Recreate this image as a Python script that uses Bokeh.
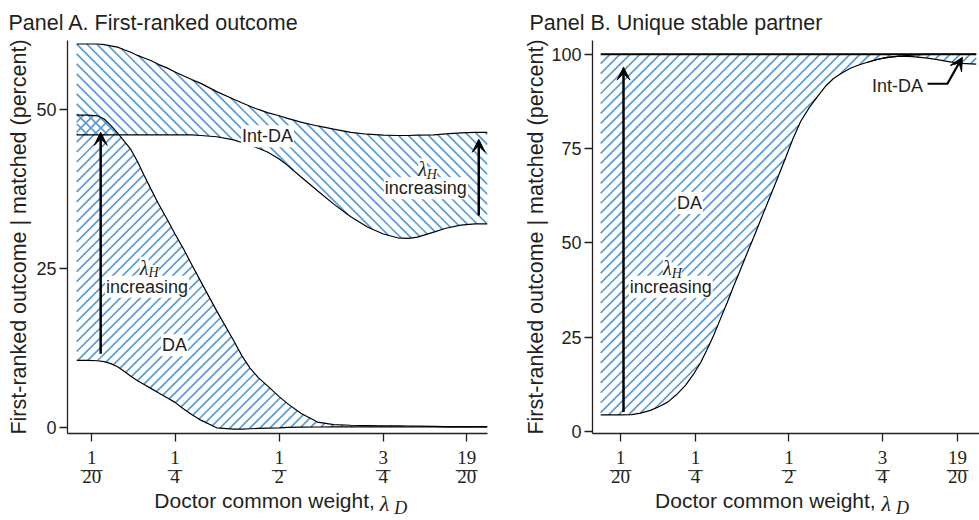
import numpy as np
from bokeh.plotting import figure
from bokeh.models import Range1d, Label, Arrow, VeeHead, FixedTicker, LinearAxis
from bokeh.layouts import row
from bokeh.embed import file_html
from bokeh.resources import INLINE

# ---------------- data ----------------
x_ticks = [0.05, 0.25, 0.5, 0.75, 0.95]
x_tick_num = ["1", "1", "1", "3", "19"]
x_tick_den = ["20", "4", "2", "4", "20"]

a_y_ticks = [0, 25, 50]
b_y_ticks = [0, 25, 50, 75, 100]

# Panel A: first-ranked outcome
a_x = [0.014, 0.04, 0.064, 0.08, 0.096, 0.112, 0.128, 0.144, 0.16, 0.176,
       0.192, 0.21, 0.232, 0.25, 0.27, 0.29, 0.312,
       0.35, 0.391, 0.41, 0.43, 0.45, 0.472, 0.5, 0.52, 0.552,
       0.592, 0.631, 0.672, 0.712, 0.75, 0.784, 0.81, 0.832, 0.871, 0.9, 0.936, 0.97, 1.0]
a_intda_hi = [60.3, 60.3, 60.3, 60.2, 60.0, 59.8, 59.4, 59.0, 58.5, 58.1,
              57.7, 57.1, 56.5, 55.9, 55.3, 54.7, 54.1,
              52.8, 51.6, 51.05, 50.5, 50.0, 49.5, 49.0, 48.6, 48.0,
              47.4, 46.9, 46.4, 46.1, 45.95, 45.9, 45.9, 45.95, 46.0, 46.15, 46.3, 46.4, 46.4]
a_intda_lo = [46.0, 46.0, 46.0, 46.0, 46.0, 46.0, 46.0, 46.0, 46.0, 46.0,
              46.0, 46.0, 46.0, 46.0, 46.0, 46.0, 45.9,
              45.7, 45.2, 44.8, 44.4, 43.9, 43.3, 42.2, 41.2, 39.4,
              37.2, 35.1, 33.1, 31.5, 30.4, 29.8, 29.7, 29.9, 30.7, 31.3, 31.8, 32.0, 32.0]
a_da_hi = [49.1, 49.1, 49.0, 48.5, 47.5, 46.3, 45.0, 43.7, 41.8, 39.6,
           37.5, 35.2, 32.6, 30.4, 28.1, 25.6, 22.9,
           18.3, 13.6, 11.3, 9.3, 7.8, 6.5, 4.8, 3.7, 2.2,
           0.8, 0.4, 0.3, 0.25, 0.2, 0.2, 0.15, 0.15, 0.12, 0.1, 0.1, 0.1, 0.1]
a_da_lo = [10.5, 10.5, 10.45, 10.3, 10.0, 9.5, 8.8, 8.0, 7.3, 6.7,
           6.1, 5.4, 4.6, 3.9, 2.9, 2.0, 1.1,
           -0.1, -0.3, -0.3, -0.25, -0.2, -0.15, -0.1, -0.05, 0.0,
           0.02, 0.03, 0.03, 0.03, 0.03, 0.03, 0.02, 0.02, 0.02, 0.01, 0.01, 0.0, 0.0]

# Panel B: unique stable partner
b_x = [-0.003, 0.03, 0.05, 0.08, 0.103, 0.13, 0.155, 0.176, 0.2, 0.224,
       0.245, 0.264, 0.28, 0.298, 0.315, 0.335, 0.352, 0.37, 0.389, 0.405,
       0.425, 0.445, 0.469, 0.49, 0.51, 0.531, 0.555, 0.576, 0.6, 0.619,
       0.64, 0.664, 0.69, 0.71, 0.73, 0.752, 0.775, 0.798, 0.82, 0.845,
       0.87, 0.9, 0.93, 0.96, 1.0]
b_da_lo = [4.4, 4.4, 4.4, 4.5, 4.9, 5.6, 6.7, 7.8, 9.8, 12.3,
           15.2, 18.3, 21.5, 25.3, 29.4, 34.2, 38.5, 42.8, 47.5, 51.3,
           56.3, 61.2, 67.1, 72.3, 77.5, 82.2, 86.0, 88.8, 91.8, 93.6,
           95.0, 96.3, 97.3, 97.9, 98.5, 99.0, 99.3, 99.5, 99.7, 99.9,
           100.0, 100.0, 100.0, 100.0, 100.0]
b_da_hi = [100.0] * 45
b_int_x = [0.71, 0.73, 0.752, 0.775, 0.798, 0.83, 0.87, 0.9, 0.93, 0.96, 1.0]
b_int_lo = [97.9, 98.5, 99.0, 99.3, 99.5, 99.4, 99.0, 98.5, 98.0, 97.6, 97.4]
b_int_hi = [100.0] * 11

x_title = "Doctor common weight,"

# ---------------- style ----------------
BLUE = "#5b9bd5"
TXT = "#231f20"
SANS = "Liberation Sans"
SERIF = "Liberation Serif"
MONO = "DejaVu Sans Mono"
H = 520
TOP, BOTTOM = 40, 86
FRAME_H = H - TOP - BOTTOM
HATCH_GAP = 10      # px between hatch lines (horizontal)
HATCH_W = 1.7


def hatch_band(p, x, ylo, yhi, sx, sy, direction):
    """45-degree hatch lines (in screen space) filling the band ylo..yhi."""
    x = np.asarray(x, float)
    xs = np.linspace(x[0], x[-1], 4000)
    vlo = np.interp(xs, x, ylo) * sy
    vhi = np.interp(xs, x, yhi) * sy
    u = xs * sx
    k = 1.0 if direction == "/" else -1.0
    cmin = np.min(vlo - k * u)
    cmax = np.max(vhi - k * u)
    cs = np.arange(np.floor(cmin / HATCH_GAP) * HATCH_GAP, cmax + HATCH_GAP, HATCH_GAP)
    seg_x, seg_y = [], []
    for c in cs:
        v = k * u + c
        inside = (v >= vlo) & (v <= vhi)
        if not inside.any():
            continue
        d = np.diff(inside.astype(int))
        starts = list(np.where(d == 1)[0] + 1)
        ends = list(np.where(d == -1)[0])
        if inside[0]:
            starts = [0] + starts
        if inside[-1]:
            ends = ends + [len(xs) - 1]
        for s, e in zip(starts, ends):
            seg_x.append([xs[s], xs[e]])
            seg_y.append([v[s] / sy, v[e] / sy])
    p.multi_line(seg_x, seg_y, line_color=BLUE, line_width=HATCH_W)


def lab(p, x, y, text, size="18px", font=SANS, style="normal", align="center",
        baseline="middle", xo=0, yo=0, bg=None, pad=0):
    p.add_layout(Label(x=x, y=y, text=text, text_font=font, text_font_size=size,
                       text_font_style=style, text_align=align, text_baseline=baseline,
                       x_offset=xo, y_offset=yo, text_color=TXT,
                       background_fill_color=bg, padding=pad))


def text_axis(p, ticks, labels, font, size, standoff, style="normal"):
    ax = LinearAxis(ticker=FixedTicker(ticks=ticks, minor_ticks=[]),
                    major_label_overrides=dict(zip(ticks, labels)),
                    axis_line_color=None, major_tick_line_color=None,
                    minor_tick_line_color=None,
                    major_tick_out=0, major_tick_in=0, minor_tick_out=0, minor_tick_in=0,
                    major_label_text_font=font, major_label_text_font_size=size,
                    major_label_text_font_style=style, major_label_text_color=TXT,
                    major_label_standoff=standoff)
    p.add_layout(ax, "below")


def panel(title, xr, yr, yticks, width, left, right, title_off, ylab_standoff,
          title_pos):
    p = figure(width=width, height=H, x_range=Range1d(*xr), y_range=Range1d(*yr),
               output_backend="svg", toolbar_location=None,
               min_border_left=left, min_border_right=right,
               min_border_top=TOP, min_border_bottom=BOTTOM)
    p.outline_line_color = None
    p.grid.visible = False
    p.title.text = title
    p.title.align = "left"
    p.title.offset = title_off
    p.title.text_font = SANS
    p.title.text_font_size = "21.5px"
    p.title.text_font_style = "normal"
    p.title.text_color = TXT
    p.title.standoff = 11
    xa = p.xaxis[0]
    ya = p.yaxis[0]
    for ax in (xa, ya):
        ax.axis_line_color = TXT
        ax.axis_line_width = 1.3
        ax.major_tick_line_color = TXT
        ax.major_tick_line_width = 1.3
        ax.major_tick_out = 8
        ax.major_tick_in = 0
        ax.minor_tick_out = 0
        ax.minor_tick_in = 0
    # x axis: numerators on the real axis, bars and denominators stacked below
    xa.ticker = FixedTicker(ticks=x_ticks, minor_ticks=[])
    xa.major_label_overrides = dict(zip(x_ticks, x_tick_num))
    xa.major_label_text_font = SERIF
    xa.major_label_text_font_size = "19px"
    xa.major_label_text_color = TXT
    xa.major_label_standoff = 9
    bars = ["\u2500" * (3 if len(d) > 1 else 2) for d in x_tick_den]
    text_axis(p, x_ticks, bars, MONO, "12px", -3)
    text_axis(p, x_ticks, x_tick_den, SERIF, "19px", -11)
    # x axis title pieces: text, lambda, subscript D
    text_axis(p, [title_pos[0]], [x_title], SANS, "21px", 3)
    text_axis(p, [title_pos[1]], ["λ"], SERIF, "22px", -24, "italic")
    text_axis(p, [title_pos[2]], ["D"], SERIF, "18px", -21, "italic")

    ya.ticker = FixedTicker(ticks=yticks, minor_ticks=[])
    ya.major_label_text_font = SANS
    ya.major_label_text_font_size = "18px"
    ya.major_label_text_color = TXT
    ya.major_label_standoff = 3
    ya.axis_label = "First-ranked outcome | matched (percent)"
    ya.axis_label_text_font = SANS
    ya.axis_label_text_font_size = "21.5px"
    ya.axis_label_text_font_style = "normal"
    ya.axis_label_text_color = TXT
    ya.axis_label_standoff = ylab_standoff
    sx = (width - left - right) / (xr[1] - xr[0])
    sy = FRAME_H / (yr[1] - yr[0])
    return p, sx, sy


def sub_label(p, x, y, main, sub, bg="white"):
    lab(p, x, y, main, size="20px", font=SERIF, style="italic", align="right",
        baseline="middle", xo=1, bg=bg)
    lab(p, x, y, sub, size="14px", font=SERIF, style="italic", align="left",
        baseline="middle", xo=1, yo=-5, bg=bg)


def arrow(p, x0, y0, x1, y1, head=True, lw=2.5):
    p.add_layout(Arrow(x_start=x0, y_start=y0, x_end=x1, y_end=y1, line_width=lw,
                       line_color="black", start=None,
                       end=VeeHead(size=13, fill_color="black", line_color="black",
                                   line_width=1) if head else None))


# ---------------- Panel A ----------------
pa, asx, asy = panel("Panel A. First-ranked outcome", (-0.008, 1.0), (-1.0, 60.85),
                     a_y_ticks, 500, 67, 13, -59, 2, (0.465, 0.753, 0.792))
hatch_band(pa, a_x, a_da_lo, a_da_hi, asx, asy, "/")
hatch_band(pa, a_x, a_intda_lo, a_intda_hi, asx, asy, "\\")
for ys in (a_intda_hi, a_intda_lo, a_da_hi, a_da_lo):
    pa.line(a_x, ys, line_color="black", line_width=1.2)

arrow(pa, 0.0716, 11.55, 0.0716, 46.4)
arrow(pa, 0.979, 33.3, 0.979, 45.3)
lab(pa, 0.472, 45.8, "Int-DA", bg="white", pad=1)
lab(pa, 0.852, 37.6, "increasing", bg="white", pad=1)
sub_label(pa, 0.852, 40.6, "λ", "H")
lab(pa, 0.183, 22.1, "increasing", bg="white", pad=1)
sub_label(pa, 0.184, 25.1, "λ", "H")
lab(pa, 0.249, 12.9, "DA", bg="white", pad=1)

# ---------------- Panel B ----------------
pb, bsx, bsy = panel("Panel B. Unique stable partner", (-0.0248, 1.0088), (-0.52, 103.66),
                     b_y_ticks, 479, 92, 0, -63, 0, (0.437, 0.760, 0.803))
hatch_band(pb, b_x, b_da_lo, b_da_hi, bsx, bsy, "/")
hatch_band(pb, b_int_x, b_int_lo, b_int_hi, bsx, bsy, "/")
pb.line(b_x, b_da_lo, line_color="black", line_width=1.2)
pb.line(b_int_x, b_int_lo, line_color="black", line_width=1.2)
pb.line(b_x, b_da_hi, line_color="black", line_width=2.0)

arrow(pb, 0.058, 5.2, 0.058, 96.6)
lab(pb, 0.234, 60.6, "DA", bg="white", pad=1)
lab(pb, 0.184, 38.4, "increasing", bg="white", pad=1)
sub_label(pb, 0.184, 43.3, "λ", "H")
lab(pb, 0.79, 91.6, "Int-DA", bg="white", pad=1)
arrow(pb, 0.870, 92.2, 0.925, 92.2, head=False, lw=2.2)
arrow(pb, 0.923, 92.2, 0.963, 99.2, lw=2.2)

layout = row(pa, pb)
open("out.html", "w").write(file_html(layout, INLINE))
